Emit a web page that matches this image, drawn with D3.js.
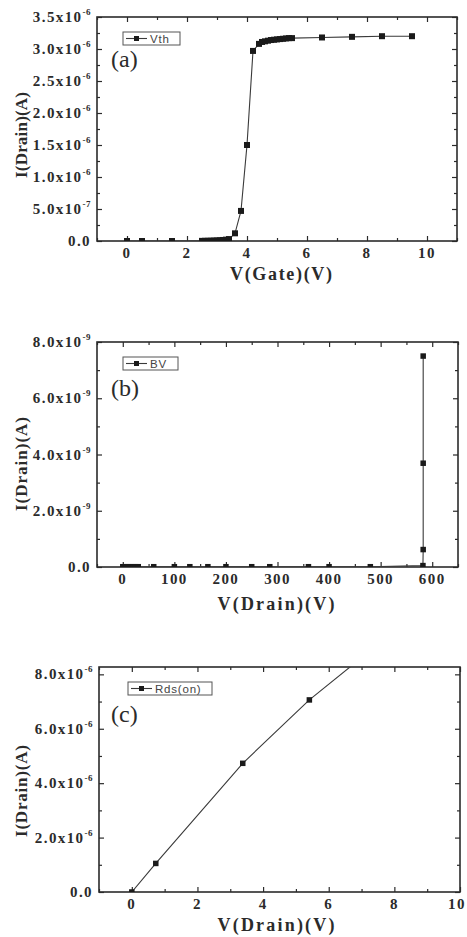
<!DOCTYPE html>
<html>
<head>
<meta charset="utf-8">
<script src="https://cdn.jsdelivr.net/npm/d3@7/dist/d3.min.js"></script>
<style>
  html, body { margin: 0; padding: 0; background: #fff; }
  svg { display: block; }
</style>
</head>
<body>
<div id="chart"></div>
<script>
// (a) threshold voltage sweep
const vthGate = [0, 0.5, 1.5, 2.5, 2.6, 2.7, 2.8, 2.9, 3.0, 3.1, 3.2, 3.3, 3.4, 3.6, 3.8, 4.0, 4.2, 4.4,
  4.5, 4.6, 4.7, 4.8, 4.9, 5.0, 5.1, 5.2, 5.3, 5.4, 5.5, 6.5, 7.5, 8.5, 9.5];
const vthCurrent = [0, 0, 0, 0.002, 0.003, 0.004, 0.005, 0.007, 0.009, 0.012, 0.016, 0.021, 0.03, 0.12, 0.47, 1.5, 2.97, 3.08,
  3.11, 3.12, 3.13, 3.14, 3.145, 3.15, 3.155, 3.16, 3.165, 3.17, 3.17, 3.18, 3.19, 3.2, 3.2].map(v => v * 1e-6);

// (b) breakdown voltage sweep
const bvDrain = [0, 5, 10, 15, 20, 25, 30, 60, 100, 130, 165, 200, 250, 285, 360, 400, 480, 582, 582.5, 582.5, 582.5];
const bvCurrent = [0.01, 0.01, 0.01, 0.01, 0.01, 0.01, 0.01, 0.01, 0.01, 0.01, 0.01, 0.01, 0.01, 0.01, 0.01, 0.01, 0.01,
  0.05, 0.62, 3.69, 7.5].map(v => v * 1e-9);

// (c) on-resistance sweep
const rdsDrain = [0, 0.73, 3.38, 5.41, 7.5];
const rdsCurrent = [0, 1.05, 4.73, 7.06, 9.1].map(v => v * 1e-6);

// axis ticks
const xTicksA = [0, 2, 4, 6, 8, 10];
const xMinorA = [-1, 1, 3, 5, 7, 9, 11];
const yTicksA = [0, 0.5e-6, 1.0e-6, 1.5e-6, 2.0e-6, 2.5e-6, 3.0e-6, 3.5e-6];
const yMinorA = [0.25e-6, 0.75e-6, 1.25e-6, 1.75e-6, 2.25e-6, 2.75e-6, 3.25e-6];

const xTicksB = [0, 100, 200, 300, 400, 500, 600];
const xMinorB = [-50, 50, 150, 250, 350, 450, 550, 650];
const yTicksB = [0, 2e-9, 4e-9, 6e-9, 8e-9];
const yMinorB = [1e-9, 3e-9, 5e-9, 7e-9];

const xTicksC = [0, 2, 4, 6, 8, 10];
const xMinorC = [-1, 1, 3, 5, 7, 9];
const yTicksC = [0, 2e-6, 4e-6, 6e-6, 8e-6];
const yMinorC = [1e-6, 3e-6, 5e-6, 7e-6];

const W = 467, H = 937;
const SERIF = '"Liberation Serif", "Times New Roman", serif';
const SANS = '"Liberation Sans", Arial, sans-serif';
const INK = '#2b2b2b';

const svg = d3.select('#chart').append('svg')
  .attr('width', W).attr('height', H)
  .style('background', '#fff');

function sciParts(v) {
  if (v === 0) return ['0.0', null];
  const e = Math.floor(Math.log10(v) + 1e-9);
  const m = v / Math.pow(10, e);
  return [m.toFixed(1) + 'x10', String(e)];
}

function drawPanel(cfg) {
  const { box, xDomain, yDomain, xs, ys, xMajor, xMinor, yMajor, yMinor } = cfg;
  const x = d3.scaleLinear().domain(xDomain).range([box.left, box.right]);
  const y = d3.scaleLinear().domain(yDomain).range([box.bottom, box.top]);
  const g = svg.append('g');

  const clipId = 'clip-' + cfg.key;
  svg.append('clipPath').attr('id', clipId)
    .append('rect')
    .attr('x', box.left).attr('y', box.top)
    .attr('width', box.right - box.left).attr('height', box.bottom - box.top);

  // ticks on all four sides, pointing in
  function ticks(axis, values, size, transform) {
    const dom = axis.scale().domain();
    const a = g.append('g').attr('transform', transform)
      .call(axis.tickValues(values.filter(v => v >= d3.min(dom) && v <= d3.max(dom)))
        .tickSize(-size).tickSizeOuter(0).tickFormat(''));
    a.select('.domain').remove();
    a.selectAll('line').attr('stroke', INK).attr('stroke-width', 1.2);
  }
  ticks(d3.axisBottom(x), xMajor, 5, `translate(0,${box.bottom})`);
  ticks(d3.axisBottom(x), xMinor, 3, `translate(0,${box.bottom})`);
  ticks(d3.axisTop(x), xMajor, 5, `translate(0,${box.top})`);
  ticks(d3.axisTop(x), xMinor, 3, `translate(0,${box.top})`);
  ticks(d3.axisLeft(y), yMajor, 5, `translate(${box.left},0)`);
  ticks(d3.axisLeft(y), yMinor, 3, `translate(${box.left},0)`);
  ticks(d3.axisRight(y), yMajor, 5, `translate(${box.right},0)`);
  ticks(d3.axisRight(y), yMinor, 3, `translate(${box.right},0)`);

  // frame
  g.append('rect')
    .attr('x', box.left).attr('y', box.top)
    .attr('width', box.right - box.left).attr('height', box.bottom - box.top)
    .attr('fill', 'none').attr('stroke', INK).attr('stroke-width', 1.6);

  // x tick labels (kept inside the page edge)
  g.append('g').selectAll('text').data(xMajor).join('text')
    .attr('x', d => Math.min(x(d), W - 10)).attr('y', box.bottom + 17)
    .attr('text-anchor', 'middle')
    .attr('font-family', SERIF).attr('font-weight', 'bold').attr('font-size', 15)
    .attr('letter-spacing', 1.4)
    .attr('fill', INK)
    .text(d => d);

  // y tick labels with superscript exponent
  const yl = g.append('g').selectAll('text').data(yMajor).join('text')
    .attr('x', box.left - 6).attr('y', d => y(d) + 5)
    .attr('text-anchor', 'end')
    .attr('font-family', SERIF).attr('font-weight', 'bold').attr('font-size', 15)
    .attr('letter-spacing', 1.4)
    .attr('fill', INK);
  yl.each(function (d) {
    const [m, e] = sciParts(d);
    const t = d3.select(this);
    t.append('tspan').text(m);
    if (e) {
      t.append('tspan').attr('dy', -7).attr('font-size', 9).attr('letter-spacing', 0.5).text(e);
    }
  });

  // axis titles
  g.append('text')
    .attr('x', cfg.xTitle.cx).attr('y', cfg.xTitle.y)
    .attr('text-anchor', 'middle')
    .attr('font-family', SERIF).attr('font-weight', 'bold').attr('font-size', 18)
    .attr('textLength', cfg.xTitle.len).attr('lengthAdjust', 'spacing')
    .attr('fill', INK)
    .text(cfg.xTitle.text);

  g.append('text')
    .attr('transform', `translate(27,${cfg.yTitle.cy}) rotate(-90)`)
    .attr('text-anchor', 'middle')
    .attr('font-family', SERIF).attr('font-weight', 'bold').attr('font-size', 17)
    .attr('textLength', cfg.yTitle.len).attr('lengthAdjust', 'spacing')
    .attr('fill', INK)
    .text('I(Drain)(A)');

  // data
  const pts = xs.map((v, i) => [v, ys[i]]);
  const plot = g.append('g').attr('clip-path', `url(#${clipId})`);
  plot.append('path')
    .datum(pts)
    .attr('fill', 'none').attr('stroke', '#3a3a3a').attr('stroke-width', 1.1)
    .attr('d', d3.line().x(d => x(d[0])).y(d => y(d[1])));
  const ms = cfg.marker;
  plot.append('g').selectAll('rect').data(pts).join('rect')
    .attr('x', d => x(d[0]) - ms / 2).attr('y', d => y(d[1]) - ms / 2)
    .attr('width', ms).attr('height', ms)
    .attr('fill', '#1a1a1a');

  // legend
  const lg = g.append('g').attr('transform', `translate(${cfg.legend.x},${box.top + 15})`);
  lg.append('rect')
    .attr('x', 0).attr('y', 0).attr('width', cfg.legend.w).attr('height', 13)
    .attr('fill', '#fff').attr('stroke', '#555').attr('stroke-width', 1);
  lg.append('line')
    .attr('x1', 3).attr('x2', 24).attr('y1', 6.5).attr('y2', 6.5)
    .attr('stroke', '#3a3a3a').attr('stroke-width', 1.1);
  lg.append('rect')
    .attr('x', 11).attr('y', 4).attr('width', 5).attr('height', 5)
    .attr('fill', '#1a1a1a');
  lg.append('text')
    .attr('x', 27).attr('y', 10.8)
    .attr('font-family', SANS).attr('font-size', 11.5)
    .attr('letter-spacing', 0.8)
    .attr('fill', '#444')
    .text(cfg.legend.text);

  // panel tag
  g.append('text')
    .attr('x', 111).attr('y', box.top + cfg.tagDy)
    .attr('font-family', SERIF).attr('font-size', 24)
    .attr('fill', INK)
    .text(cfg.tag);
}

drawPanel({
  key: 'a',
  box: { left: 97, right: 457, top: 17, bottom: 241 },
  xDomain: [-1, 11], yDomain: [0, 3.5e-6],
  xs: vthGate, ys: vthCurrent,
  xMajor: xTicksA, xMinor: xMinorA, yMajor: yTicksA, yMinor: yMinorA,
  xTitle: { text: 'V(Gate)(V)', cx: 281, y: 280, len: 102 },
  yTitle: { cy: 135, len: 86 },
  legend: { x: 123, w: 57, text: 'Vth' },
  tag: '(a)', tagDy: 50,
  marker: 6
});

drawPanel({
  key: 'b',
  box: { left: 97, right: 458, top: 342, bottom: 567 },
  xDomain: [-50, 650], yDomain: [0, 8e-9],
  xs: bvDrain, ys: bvCurrent,
  xMajor: xTicksB, xMinor: xMinorB, yMajor: yTicksB, yMinor: yMinorB,
  xTitle: { text: 'V(Drain)(V)', cx: 276, y: 610, len: 117 },
  yTitle: { cy: 464, len: 94 },
  legend: { x: 123, w: 55, text: 'BV' },
  tag: '(b)', tagDy: 54,
  marker: 5.5
});

drawPanel({
  key: 'c',
  box: { left: 99, right: 460, top: 667, bottom: 892 },
  xDomain: [-1, 10], yDomain: [0, 8.27e-6],
  xs: rdsDrain, ys: rdsCurrent,
  xMajor: xTicksC, xMinor: xMinorC, yMajor: yTicksC, yMinor: yMinorC,
  xTitle: { text: 'V(Drain)(V)', cx: 276, y: 931, len: 117 },
  yTitle: { cy: 791, len: 92 },
  legend: { x: 128, w: 84, text: 'Rds(on)' },
  tag: '(c)', tagDy: 55,
  marker: 5.5
});
</script>
</body>
</html>
